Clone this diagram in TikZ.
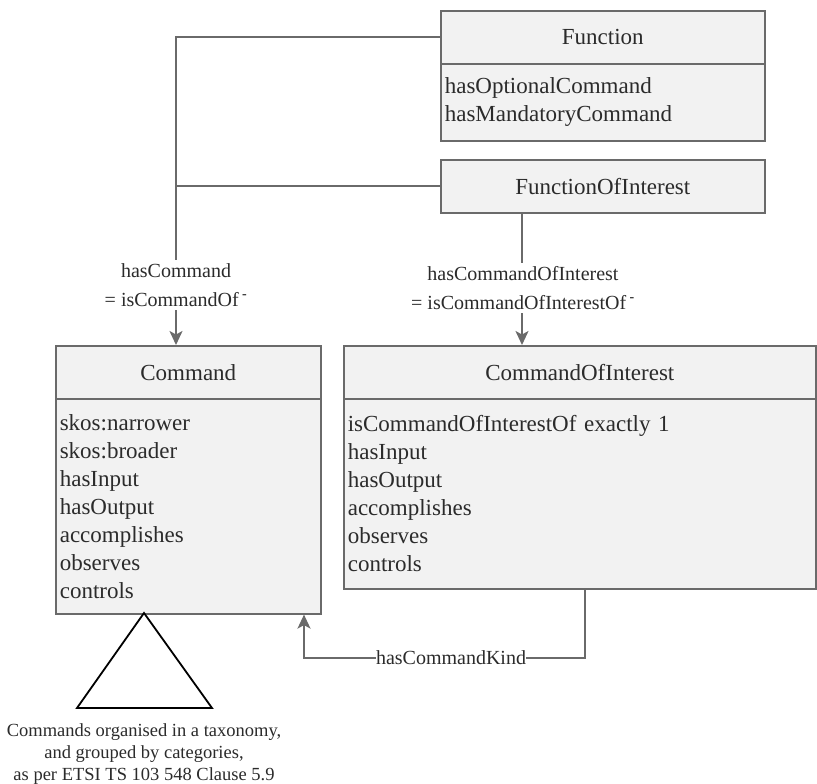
\documentclass[tikz,border=0pt]{standalone}
\usepackage{fontspec}
\setmainfont{Liberation Serif}
\usetikzlibrary{arrows.meta}
\definecolor{boxfill}{HTML}{F2F2F2}
\definecolor{boxline}{HTML}{6A6A6A}
\definecolor{txt}{HTML}{2B2B2B}
\begin{document}
\begin{tikzpicture}[x=1pt,y=-1pt,
  hdr/.style={draw=boxline, line width=1.6pt, fill=boxfill, anchor=north west, inner sep=0pt, text=txt, font=\fontsize{23}{28}\selectfont},
  bodybox/.style={draw=boxline, line width=1.6pt, fill=boxfill, anchor=north west, inner xsep=4pt, inner ysep=0pt, align=left, text=txt, font=\fontsize{23}{28}\selectfont},
  conn/.style={draw=boxline, line width=1.8pt},
  arr/.style={conn, -{Stealth[length=14pt,width=13pt,inset=3.5pt]}},
  lbl/.style={fill=white, inner xsep=1pt, inner ysep=3pt, align=center, text=txt, font=\fontsize{20}{29}\selectfont},
  tri/.style={draw=black, line width=1.8pt}
]
\useasboundingbox (0,0) rectangle (817,784);

% Function
\node[hdr, minimum width=324pt, minimum height=53pt] (fh) at (440,10) {Function};
\node[bodybox, text width=316pt, minimum height=77pt] (fb) at (440,63) {hasOptionalCommand\\hasMandatoryCommand};

% FunctionOfInterest
\node[hdr, minimum width=324pt, minimum height=53pt] (foi) at (440,159) {FunctionOfInterest};

% Command
\node[hdr, minimum width=265pt, minimum height=53pt] (ch) at (55,345) {Command};
\node[bodybox, text width=257pt, minimum height=215pt] (cb) at (55,398) {skos:narrower\\skos:broader\\hasInput\\hasOutput\\accomplishes\\observes\\controls};

% CommandOfInterest
\node[hdr, minimum width=472pt, minimum height=53pt] (coh) at (343,345) {CommandOfInterest};
\node[bodybox, text width=464pt, minimum height=190pt] (cob) at (343,398) {isCommandOfInterestOf exactly 1\\hasInput\\hasOutput\\accomplishes\\observes\\controls};

% coordinates
\coordinate (cmdtop) at (176,345);
\coordinate (junc) at (foi.west -| cmdtop);
\coordinate (kx) at (522,0);
\coordinate (kindx) at (585,0);
\coordinate (kindy) at (0,658);
\coordinate (backx) at (304,0);

% hasCommand
\draw[conn] (fh.west) -| (junc);
\draw[conn] (foi.west) -- (junc);
\draw[arr] (junc) -- (cmdtop);
\node[lbl] (l1) at (176,285) {hasCommand\\= isCommandOf\,\textsuperscript{\textbf{-}}};

% hasCommandOfInterest
\draw[arr] (foi.south -| kx) -- (coh.north -| kx);
\node[lbl] (l3) at (523,288) {hasCommandOfInterest\\= isCommandOfInterestOf\,\textsuperscript{\textbf{-}}};

% hasCommandKind
\draw[arr] (cob.south -| kindx) -- (kindx |- kindy) -- (backx |- kindy) -- (cb.south -| backx);
\node[lbl, inner sep=0pt] (l5) at (451,658) {hasCommandKind};

% taxonomy triangle
\coordinate (apex) at (144,613);
\draw[tri, line join=miter] (apex) -- (212,708) -- (77,708) -- cycle;
\node[text=txt, align=center, inner sep=0pt, font=\fontsize{18.5}{22}\selectfont, anchor=north] (cap) at (144,723) {Commands organised in a taxonomy,\\and grouped by categories,\\as per ETSI TS 103 548 Clause 5.9};
\end{tikzpicture}
\end{document}
